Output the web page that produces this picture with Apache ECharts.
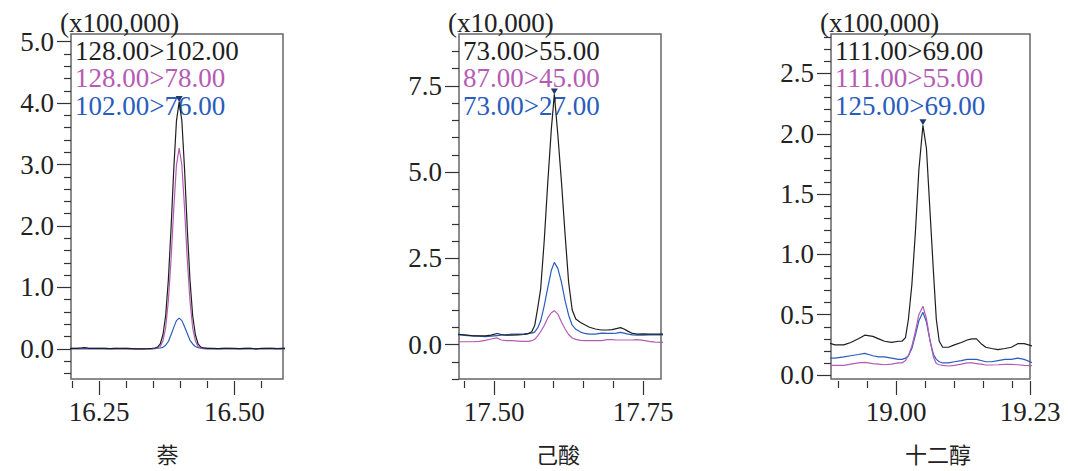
<!DOCTYPE html>
<html><head><meta charset="utf-8">
<script src="https://cdn.jsdelivr.net/npm/echarts@6/dist/echarts.min.js"></script>
<style>html,body{margin:0;padding:0;background:#fff}#c{width:1068px;height:471px}</style>
</head><body><div id="c"></div>
<script>
// ---------- Panel 1: 萘 ----------
const naphTime = [16.190,16.200,16.210,16.218,16.224,16.230,16.240,16.250,16.260,16.270,16.280,16.290,16.300,16.310,16.320,16.330,16.340,16.348,16.353,16.358,16.363,16.368,16.373,16.378,16.383,16.388,16.393,16.398,16.403,16.408,16.413,16.418,16.423,16.428,16.433,16.438,16.443,16.450,16.460,16.470,16.480,16.490,16.500,16.510,16.520,16.530,16.540,16.550,16.560,16.570,16.580,16.590,16.600];
const naph128_102 = [0.01,0.01,0.01,0.015,0.02,0.01,0.01,0.01,0.01,0.005,0.01,0.01,0.01,0.005,0.0,0.0,0.005,0.01,0.015,0.03,0.08,0.23,0.54,1.12,1.96,2.92,3.71,4.02,3.71,2.92,1.96,1.12,0.54,0.23,0.08,0.03,0.015,0.01,0.01,0.005,0.01,0.01,0.01,0.005,0.01,0.01,0.0,0.01,0.01,0.01,0.005,0.01,0.01];
const naph128_78 = [0.01,0.01,0.01,0.01,0.015,0.01,0.01,0.01,0.01,0.005,0.01,0.005,0.01,0.005,0.0,0.0,0.005,0.005,0.01,0.015,0.04,0.13,0.34,0.78,1.45,2.28,2.99,3.27,2.99,2.28,1.45,0.78,0.34,0.13,0.04,0.015,0.01,0.01,0.005,0.005,0.01,0.01,0.005,0.005,0.01,0.01,0.0,0.005,0.01,0.01,0.005,0.01,0.01];
const naph102_76 = [0,0,0,0,0,0,0,0,0,0,0,0,0,0,0,0,0,0,0.005,0.01,0.015,0.025,0.06,0.12,0.23,0.35,0.46,0.50,0.46,0.36,0.25,0.14,0.08,0.04,0.02,0.01,0.005,0,0,0,0,0,0,0,0,0,0,0,0,0,0,0,0];
const naphNames = ['128.00>102.00','128.00>78.00','102.00>76.00'];
const naphXMajor = [16.25,16.50];
const naphXMinor = [16.20,16.30,16.35,16.40,16.45,16.55];
const naphYMajor = [0,1,2,3,4,5];
const naphYMinor = [-0.4,-0.2,0.2,0.4,0.6,0.8,1.2,1.4,1.6,1.8,2.2,2.4,2.6,2.8,3.2,3.4,3.6,3.8,4.2,4.4,4.6,4.8];

// ---------- Panel 2: 己酸 ----------
const hexTime = [17.435,17.445,17.455,17.465,17.475,17.485,17.495,17.505,17.512,17.520,17.530,17.540,17.550,17.557,17.563,17.568,17.573,17.578,17.584,17.590,17.596,17.601,17.607,17.613,17.619,17.625,17.631,17.637,17.645,17.652,17.660,17.670,17.680,17.690,17.698,17.705,17.712,17.718,17.725,17.732,17.740,17.750,17.760,17.770,17.785];
const hex73_55 = [0.30,0.29,0.27,0.25,0.25,0.25,0.27,0.32,0.29,0.27,0.27,0.28,0.29,0.31,0.37,0.55,1.05,1.60,3.00,4.70,6.25,7.25,6.05,4.70,3.20,1.80,1.00,0.74,0.64,0.57,0.50,0.45,0.42,0.42,0.43,0.46,0.49,0.45,0.38,0.32,0.30,0.31,0.30,0.30,0.30];
const hex87_45 = [0.08,0.08,0.08,0.08,0.09,0.12,0.16,0.19,0.13,0.11,0.11,0.10,0.09,0.09,0.11,0.15,0.25,0.37,0.55,0.77,0.92,0.98,0.88,0.65,0.45,0.29,0.19,0.15,0.12,0.11,0.11,0.11,0.11,0.14,0.14,0.13,0.13,0.13,0.13,0.13,0.14,0.12,0.09,0.07,0.06];
const hex73_27 = [0.28,0.27,0.26,0.25,0.24,0.23,0.24,0.26,0.27,0.28,0.30,0.30,0.31,0.32,0.33,0.36,0.48,0.68,1.12,1.65,2.15,2.38,2.20,1.80,1.27,0.85,0.56,0.44,0.36,0.32,0.30,0.30,0.33,0.32,0.32,0.33,0.35,0.33,0.30,0.28,0.27,0.27,0.28,0.28,0.28];
const hexNames = ['73.00>55.00','87.00>45.00','73.00>27.00'];
const hexXMajor = [17.50,17.75];
const hexXMinor = [17.45,17.55,17.60,17.65,17.70];
const hexYMajor = [0,2.5,5.0,7.5];
const hexYMinor = [-1.0,-0.5,0.5,1.0,1.5,2.0,3.0,3.5,4.0,4.5,5.5,6.0,6.5,7.0,8.0,8.5];

// ---------- Panel 3: 十二醇 ----------
const dodTime = [18.880,18.895,18.910,18.922,18.935,18.946,18.960,18.970,18.980,18.992,19.004,19.010,19.016,19.021,19.027,19.033,19.039,19.046,19.052,19.058,19.064,19.069,19.074,19.080,19.090,19.100,19.112,19.122,19.130,19.138,19.146,19.154,19.164,19.175,19.187,19.198,19.209,19.220,19.235];
const dod111_69 = [0.27,0.25,0.25,0.27,0.30,0.33,0.32,0.30,0.28,0.27,0.28,0.28,0.31,0.46,0.75,1.18,1.70,2.07,1.88,1.37,0.86,0.46,0.28,0.23,0.23,0.25,0.27,0.29,0.30,0.30,0.26,0.23,0.22,0.21,0.22,0.23,0.26,0.26,0.24];
const dod111_55 = [0.08,0.08,0.08,0.09,0.10,0.105,0.095,0.09,0.085,0.09,0.10,0.10,0.12,0.16,0.24,0.36,0.50,0.57,0.47,0.29,0.15,0.095,0.085,0.08,0.075,0.08,0.09,0.10,0.10,0.095,0.09,0.083,0.083,0.085,0.088,0.088,0.085,0.08,0.078];
const dod125_69 = [0.14,0.14,0.15,0.16,0.17,0.18,0.16,0.15,0.15,0.14,0.13,0.13,0.14,0.16,0.22,0.33,0.45,0.52,0.44,0.29,0.17,0.13,0.11,0.10,0.10,0.11,0.12,0.13,0.13,0.13,0.12,0.11,0.11,0.12,0.13,0.13,0.14,0.13,0.10];
const dodNames = ['111.00>69.00','111.00>55.00','125.00>69.00'];
const dodXMajor = [19.00,19.23];
const dodXMinor = [18.90,18.95,19.05,19.10,19.15,19.20];
const dodYMajor = [0,0.5,1.0,1.5,2.0,2.5];
const dodYMinor = [0.1,0.2,0.3,0.4,0.6,0.7,0.8,0.9,1.1,1.2,1.3,1.4,1.6,1.7,1.8,1.9,2.1,2.2,2.3,2.4,2.6,2.7,2.8];

const panelTitles = ['萘','己酸','十二醇'];
const unitLabels = ['(x100,000)','(x10,000)','(x100,000)'];

// ---------- chart ----------
const NUM_FONT = '"Liberation Serif","DejaVu Serif",serif';
const CJK_FONT = '"Noto Sans CJK SC","Noto Sans",sans-serif';
const lineColors = ['#1e1e1e','#b45cb4','#2a5cbc'];
const FS = 27;

const panels = [
  {time:naphTime, ys:[naph128_102,naph128_78,naph102_76], names:naphNames, xMin:16.198, xMax:16.590, yMin:-0.49, yMax:5.125,
   xMajor:naphXMajor, xMinor:naphXMinor, yMajor:naphYMajor, yMinor:naphYMinor, left:71, width:212, unitX:60, titleX:167.5},
  {time:hexTime, ys:[hex73_55,hex87_45,hex73_27], names:hexNames, xMin:17.441, xMax:17.780, yMin:-1.0, yMax:9.0,
   xMajor:hexXMajor, xMinor:hexXMinor, yMajor:hexYMajor, yMinor:hexYMinor, left:459, width:202, unitX:448, titleX:558},
  {time:dodTime, ys:[dod111_69,dod111_55,dod125_69], names:dodNames, xMin:18.888, xMax:19.23, yMin:-0.033, yMax:2.827,
   xMajor:dodXMajor, xMinor:dodXMinor, yMajor:dodYMajor, yMinor:dodYMinor, left:831, width:199, unitX:820, titleX:938}
];

const TOP = 34, HEIGHT = 345;
const grid = [], xAxis = [], yAxis = [], series = [], legend = [], graphic = [];
const tickStyle = {color:'#333', width:1.2};
const labelBase = {fontFamily:NUM_FONT, fontSize:FS, color:'#222'};

panels.forEach((p, i) => {
  grid.push({left:p.left, top:TOP, width:p.width, height:HEIGHT, show:true, borderColor:'#666', borderWidth:1.5, backgroundColor:'transparent', containLabel:false});
  xAxis.push({type:'value', gridIndex:i, min:p.xMin, max:p.xMax, position:'bottom', offset:2,
    axisLine:{show:false, onZero:false}, splitLine:{show:false},
    axisTick:{show:true, length:14, customValues:p.xMajor, lineStyle:tickStyle},
    axisLabel:Object.assign({customValues:p.xMajor, margin:17, hideOverlap:false, showMinLabel:true, showMaxLabel:true, formatter:v=>Number(v).toFixed(2)}, labelBase)});
  xAxis.push({type:'value', gridIndex:i, min:p.xMin, max:p.xMax, position:'bottom', offset:2,
    axisLine:{show:false, onZero:false}, splitLine:{show:false},
    axisTick:{show:true, length:7, customValues:p.xMinor, lineStyle:tickStyle},
    axisLabel:{show:false}});
  yAxis.push({type:'value', gridIndex:i, min:p.yMin, max:p.yMax, position:'left',
    axisLine:{show:false, onZero:false}, splitLine:{show:false},
    axisTick:{show:true, length:14, customValues:p.yMajor, lineStyle:tickStyle},
    axisLabel:Object.assign({customValues:p.yMajor, margin:17, hideOverlap:false, formatter:v=>Number(v).toFixed(1)}, labelBase)});
  yAxis.push({type:'value', gridIndex:i, min:p.yMin, max:p.yMax, position:'left',
    axisLine:{show:false, onZero:false}, splitLine:{show:false},
    axisTick:{show:true, length:7, customValues:p.yMinor, lineStyle:tickStyle},
    axisLabel:{show:false}});

  // peak of the first trace
  const blk = p.ys[0];
  let pk = 0; blk.forEach((v,k)=>{ if (v > blk[pk]) pk = k; });

  p.ys.forEach((ys, k) => {
    const s = {type:'line', name:p.names[k], xAxisIndex:2*i, yAxisIndex:2*i,
      data:p.time.map((t,j)=>[t, ys[j]]), showSymbol:false, symbol:'none', clip:true,
      lineStyle:{color:lineColors[k], width:1.2}, itemStyle:{color:lineColors[k]}, animation:false, z:3-k+2};
    if (k === 0) {
      s.markPoint = {symbol:'triangle', symbolRotate:180, symbolSize:[7,6], symbolOffset:[0,-3],
        itemStyle:{color:'#1d3a72'}, label:{show:false}, animation:false,
        data:[{coord:[p.time[pk], blk[pk]]}]};
    }
    series.push(s);
  });

  legend.push({orient:'vertical', left:p.left - 1, top:37, padding:0, itemGap:0, itemWidth:0, itemHeight:0, icon:'rect',
    selectedMode:false, textStyle:{fontFamily:NUM_FONT, fontSize:FS, lineHeight:27.5, padding:0},
    data:p.names.map((n,k)=>({name:n, textStyle:{color:lineColors[k]}}))});

  graphic.push({type:'text', x:p.unitX, y:22.5, style:{text:unitLabels[i], fontFamily:NUM_FONT, fontSize:FS, fill:'#222', align:'left', verticalAlign:'middle'}});
  graphic.push({type:'text', x:p.titleX, y:453, style:{text:panelTitles[i], fontFamily:CJK_FONT, fontSize:22, fill:'#222', align:'center', verticalAlign:'middle'}});
});

const chart = echarts.init(document.getElementById('c'), null, {renderer:'svg'});
chart.setOption({animation:false, backgroundColor:'#fff', grid, xAxis, yAxis, series, legend, graphic});
</script></body></html>
